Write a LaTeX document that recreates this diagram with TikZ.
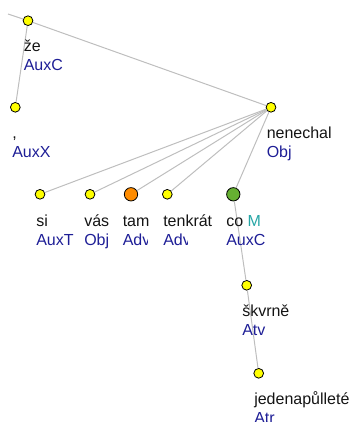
\documentclass[tikz,border=0pt]{standalone}
\usepackage{fontspec}
\setmainfont{Liberation Sans}
\begin{document}
\begin{tikzpicture}[x=0.75pt,y=0.75pt,yscale=-1,xscale=1,
  edge/.style={draw={rgb,255:red,190;green,190;blue,190},line width=0.75pt},
  tnode/.style={circle,draw=black,line width=0.6pt,inner sep=0pt,minimum size=7.3pt,fill={rgb,255:red,255;green,255;blue,0}},
  bignode/.style={tnode,minimum size=10pt},
  word/.style={anchor=base west,inner sep=0pt,text={rgb,255:red,20;green,20;blue,20},font=\fontsize{12}{14}\selectfont},
  tag/.style={word,text={rgb,255:red,30;green,30;blue,150}}]
\useasboundingbox (0,0) rectangle (355,422);

%Tree nodes
\coordinate (root) at (8,14);
\node [tnode] (ze) at (28,20.7) {};
\node [tnode] (comma) at (15.3,107.3) {};
\node [tnode] (nenechal) at (271,107.3) {};
\node [tnode] (si) at (40,194.3) {};
\node [tnode] (vas) at (90,194.3) {};
\node [bignode,fill={rgb,255:red,255;green,140;blue,0}] (tam) at (131,194.3) {};
\node [tnode] (tenkrat) at (167.3,194.3) {};
\node [bignode,fill={rgb,255:red,102;green,176;blue,50}] (co) at (233.3,194.3) {};
\node [tnode] (skvrne) at (246.7,285.3) {};
\node [tnode] (jeden) at (258.7,373.3) {};

%Edges
\draw [edge] (root) -- (ze);
\draw [edge] (ze) -- (comma);
\draw [edge] (ze) -- (nenechal);
\draw [edge] (nenechal) -- (si);
\draw [edge] (nenechal) -- (vas);
\draw [edge] (nenechal) -- (tam);
\draw [edge] (nenechal) -- (tenkrat);
\draw [edge] (nenechal) -- (co);
\draw [edge] (co) -- (skvrne);
\draw [edge] (skvrne) -- (jeden);

%Labels
\node [word] (zeW) at (23.5,51.5) {že};
\node [tag] (zeT) at (23.5,70.5) {AuxC};
\node [word] (commaW) at (12,138) {,};
\node [tag] (commaT) at (12,157) {AuxX};
\node [word] (nenechalW) at (266.5,138.5) {nenechal};
\node [tag] (nenechalT) at (266.5,157.5) {Obj};
\node [word] (siW) at (36,226) {si};
\node [tag] (siT) at (36,245) {AuxT};
\node [word] (vasW) at (84,226) {vás};
\node [tag] (vasT) at (84,245) {Obj};
\node [word] (tamW) at (122.5,226) {tam};
\begin{scope}
\clip (120,230) rectangle (147.5,252);
\node [tag] (tamT) at (122.5,245) {Adv};
\end{scope}
\node [word] (tenkratW) at (163,226) {tenkrát};
\begin{scope}
\clip (160,230) rectangle (187.5,252);
\node [tag] (tenkratT) at (163,245) {Adv};
\end{scope}
\node [word] (coW) at (226,226) {co \textcolor[RGB]{38,166,166}{M}};
\node [tag] (coT) at (226,245) {AuxC};
\node [word] (skvrneW) at (242,316) {škvrně};
\node [tag] (skvrneT) at (242,335) {Atv};
\node [word] (jedenW) at (254,404) {jedenapůlleté};
\node [tag] (jedenT) at (254,423) {Atr};

\end{tikzpicture}
\end{document}
